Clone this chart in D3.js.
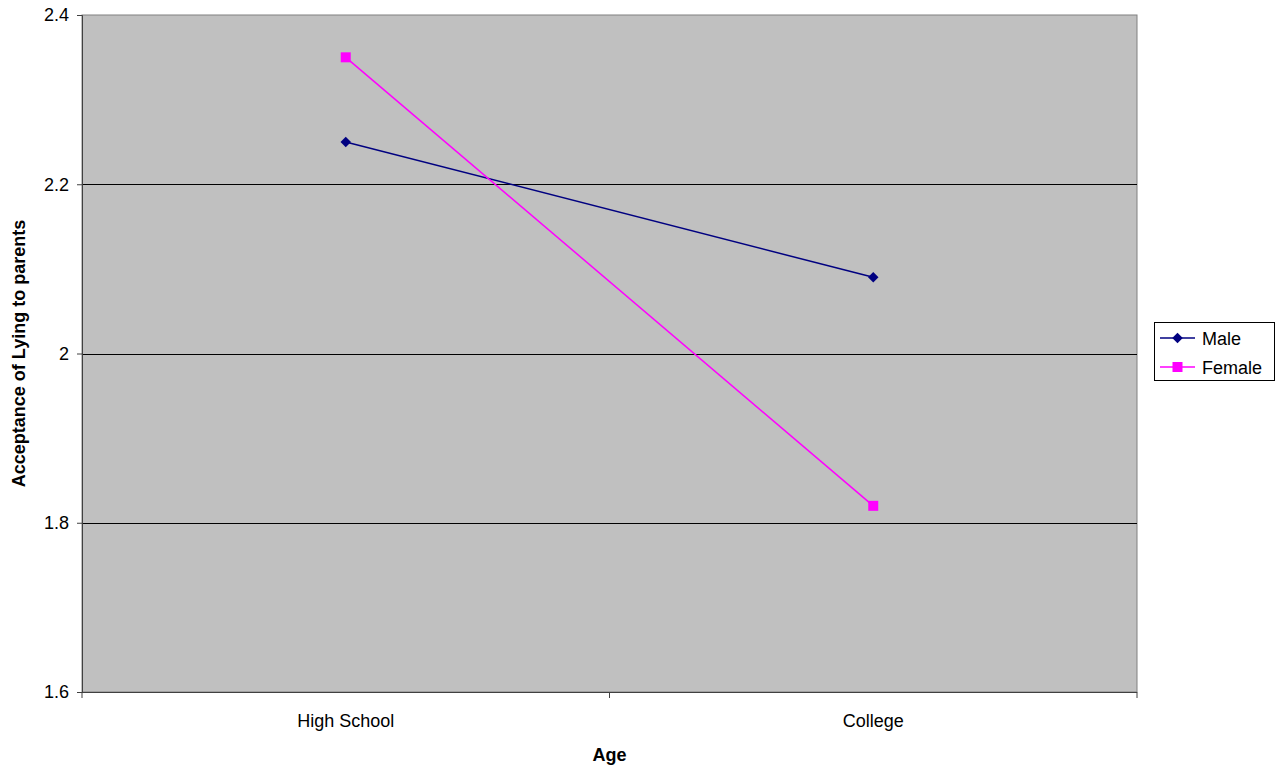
<!DOCTYPE html>
<html>
<head>
<meta charset="utf-8">
<script src="https://cdn.jsdelivr.net/npm/d3@7"></script>
<style>
body { margin: 0; background: #fff; }
svg text { font-family: "Liberation Sans", Arial, sans-serif; }
</style>
</head>
<body>
<div id="container"></div>
<script>
var categories = ["High School", "College"];
var maleValues = [2.25, 2.09];
var femaleValues = [2.35, 1.82];
var yTicks = [1.6, 1.8, 2, 2.2, 2.4];
var seriesNames = ["Male", "Female"];

var svgWidth = 1277, svgHeight = 771;
var margin = { left: 82, right: 140, top: 15, bottom: 79 };
var plotW = svgWidth - margin.left - margin.right;
var plotH = svgHeight - margin.top - margin.bottom;

var svg = d3.select("#container").append("svg")
    .attr("width", svgWidth)
    .attr("height", svgHeight);

var g = svg.append("g").attr("transform", "translate(" + margin.left + "," + margin.top + ")");

var x = d3.scaleBand().domain(categories).range([0, plotW]);
var y = d3.scaleLinear().domain([1.6, 2.4]).range([plotH, 0]);

// plot background
g.append("rect")
    .attr("width", plotW)
    .attr("height", plotH)
    .style("fill", "#c0c0c0")
    .style("stroke", "#808080")
    .style("stroke-width", 1);

// gridlines
g.selectAll("line.grid")
    .data(yTicks.filter(function(d){ return d > 1.6 && d < 2.4; }))
    .enter().append("line")
    .attr("class", "grid")
    .attr("x1", 0).attr("x2", plotW)
    .attr("y1", function(d){ return Math.round(y(d)) + 0.5; })
    .attr("y2", function(d){ return Math.round(y(d)) + 0.5; })
    .style("stroke", "#000")
    .style("stroke-width", 1);

// y axis
var yAxis = d3.axisLeft(y)
    .tickValues(yTicks)
    .tickSize(5)
    .tickPadding(8)
    .tickFormat(function(d){ return d3.format("")(+d.toFixed(1)); });
var ya = g.append("g").call(yAxis);
ya.select(".domain").style("stroke", "#404040");
ya.selectAll(".tick line").style("stroke", "#404040");
ya.selectAll("text").style("font-size", "18px").style("fill", "#000").style("font-family", "'Liberation Sans', Arial, sans-serif");

// x axis with ticks at category boundaries
var xa = g.append("g").attr("transform", "translate(0," + plotH + ")");
xa.append("line")
    .attr("x1", 0).attr("x2", plotW)
    .attr("y1", 0.5).attr("y2", 0.5)
    .style("stroke", "#404040");
var boundaries = [0].concat(categories.map(function(c){ return x(c) + x.bandwidth(); }));
xa.selectAll("line.tk")
    .data(boundaries)
    .enter().append("line")
    .attr("class", "tk")
    .attr("x1", function(d){ return d; }).attr("x2", function(d){ return d; })
    .attr("y1", 0).attr("y2", 6)
    .style("stroke", "#404040");
xa.selectAll("text")
    .data(categories)
    .enter().append("text")
    .attr("x", function(d){ return x(d) + x.bandwidth() / 2; })
    .attr("y", 35)
    .attr("text-anchor", "middle")
    .style("font-size", "18px")
    .text(function(d){ return d; });

// axis titles
svg.append("text")
    .attr("x", margin.left + plotW / 2)
    .attr("y", 761)
    .attr("text-anchor", "middle")
    .style("font-size", "18px")
    .style("font-weight", "bold")
    .text("Age");

svg.append("text")
    .attr("transform", "translate(25," + (margin.top + plotH / 2) + ") rotate(-90)")
    .attr("text-anchor", "middle")
    .style("font-size", "18px")
    .style("font-weight", "bold")
    .text("Acceptance of Lying to parents");

// series
var line = d3.line()
    .x(function(d, i){ return x(categories[i]) + x.bandwidth() / 2; })
    .y(function(d){ return y(d); });

var colors = ["#000080", "#ff00ff"];
var data = [maleValues, femaleValues];

data.forEach(function(vals, s){
    g.append("path")
        .datum(vals)
        .attr("d", line)
        .style("fill", "none")
        .style("stroke", colors[s])
        .style("stroke-width", 1.5);
});

g.selectAll("path.diamond")
    .data(maleValues)
    .enter().append("path")
    .attr("class", "diamond")
    .attr("d", d3.symbol().type(d3.symbolDiamond2).size(70))
    .attr("transform", function(d, i){
        return "translate(" + (x(categories[i]) + x.bandwidth() / 2) + "," + y(d) + ")";
    })
    .style("fill", colors[0]);

g.selectAll("rect.sq")
    .data(femaleValues)
    .enter().append("rect")
    .attr("class", "sq")
    .attr("x", function(d, i){ return x(categories[i]) + x.bandwidth() / 2 - 5; })
    .attr("y", function(d){ return y(d) - 5; })
    .attr("width", 10).attr("height", 10)
    .style("fill", colors[1]);

// legend
var lg = svg.append("g").attr("transform", "translate(1154,322)");
lg.append("rect")
    .attr("x", 0.5).attr("y", 0.5)
    .attr("width", 120).attr("height", 58)
    .style("fill", "#fff")
    .style("stroke", "#000");
seriesNames.forEach(function(name, i){
    var cy = 16 + i * 29;
    lg.append("line")
        .attr("x1", 6).attr("x2", 41)
        .attr("y1", cy).attr("y2", cy)
        .style("stroke", colors[i])
        .style("stroke-width", 1.5);
    if (i === 0) {
        lg.append("path")
            .attr("d", d3.symbol().type(d3.symbolDiamond2).size(70))
            .attr("transform", "translate(23.5," + cy + ")")
            .style("fill", colors[0]);
    } else {
        lg.append("rect")
            .attr("x", 18.5).attr("y", cy - 5)
            .attr("width", 10).attr("height", 10)
            .style("fill", colors[1]);
    }
    lg.append("text")
        .attr("x", 48)
        .attr("y", cy + 7)
        .style("font-size", "18px")
        .text(name);
});
</script>
</body>
</html>
